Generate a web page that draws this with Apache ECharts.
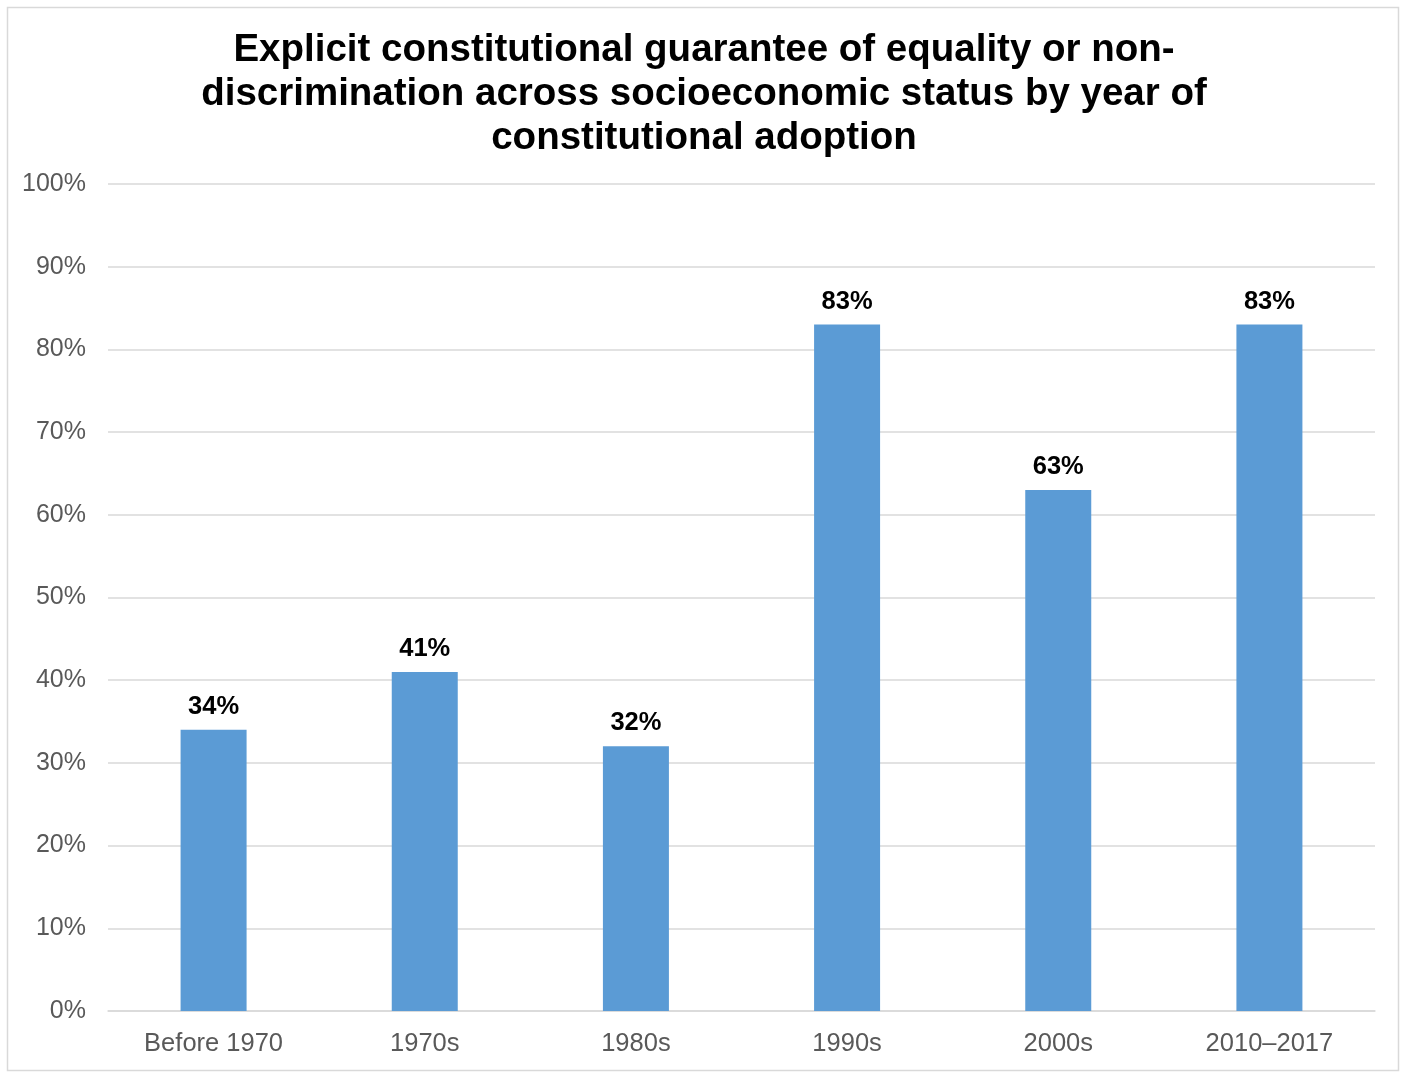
<!DOCTYPE html>
<html><head><meta charset="utf-8">
<script src="https://cdn.jsdelivr.net/npm/echarts@6/dist/echarts.min.js"></script>
<style>html,body{margin:0;padding:0;background:#fff}#c{width:1405px;height:1081px}</style>
</head><body><div id="c"></div>
<script>
const categories = ['Before 1970', '1970s', '1980s', '1990s', '2000s', '2010–2017'];
const values = [34, 41, 32, 83, 63, 83];
const yTicks = [0, 10, 20, 30, 40, 50, 60, 70, 80, 90, 100];
const titleText = 'Explicit constitutional guarantee of equality or non-\ndiscrimination across socioeconomic status by year of\nconstitutional adoption';

const chart = echarts.init(document.getElementById('c'));
chart.setOption({
  animation: false,
  backgroundColor: '#fff',
  textStyle: { fontFamily: 'Liberation Sans, Arial, sans-serif' },
  graphic: [{
    type: 'rect', shape: { x: 7.5, y: 7.5, width: 1391, height: 1063 },
    style: { fill: 'none', stroke: '#d9d9d9', lineWidth: 1.5 }, silent: true
  }],
  title: {
    text: titleText, left: 699, top: 23, textAlign: 'center',
    textStyle: { fontSize: 38.5, fontWeight: 'bold', color: '#000', lineHeight: 44, fontFamily: 'Liberation Sans, Arial, sans-serif' }
  },
  grid: { left: 108, right: 30, top: 184, bottom: 70, containLabel: false },
  xAxis: {
    type: 'category', data: categories,
    axisLine: { lineStyle: { color: '#d9d9d9', width: 1.5 } },
    axisTick: { show: false },
    axisLabel: { color: '#595959', fontSize: 25.5, margin: 20 }
  },
  yAxis: {
    type: 'value', min: yTicks[0], max: yTicks[yTicks.length - 1], interval: 10,
    axisLine: { show: false }, axisTick: { show: false },
    splitLine: { lineStyle: { color: '#d9d9d9', width: 1.5 } },
    axisLabel: { color: '#595959', fontSize: 25, margin: 22, padding: [4, 0, 0, 0], formatter: v => v + '%' }
  },
  series: [{
    type: 'bar', data: values, barWidth: 66,
    itemStyle: { color: '#5b9bd5' },
    label: { show: true, position: 'top', distance: 10, formatter: p => p.value + '%', color: '#000', fontSize: 25.5, fontWeight: 'bold' }
  }]
});
</script></body></html>
